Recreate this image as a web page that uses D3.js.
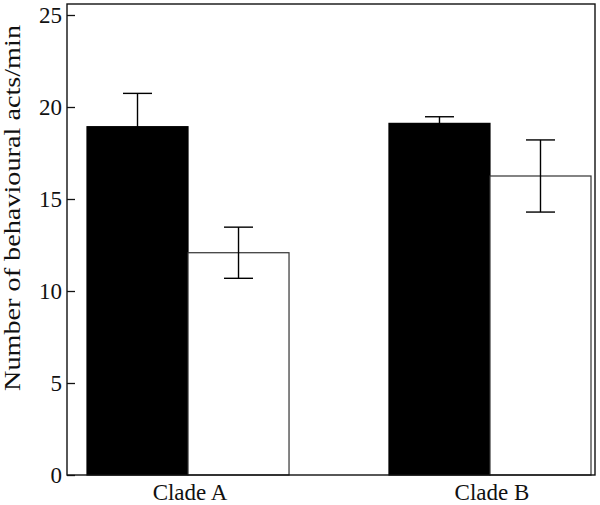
<!DOCTYPE html>
<html>
<head>
<meta charset="utf-8">
<script src="https://cdn.jsdelivr.net/npm/d3@7"></script>
<style>
  body { margin: 0; background: #fff; }
  text { font-family: "Liberation Serif", "DejaVu Serif", serif; fill: #111; }
</style>
</head>
<body>
<div id="chart"></div>
<script>
    // data
    const clades = ['Clade A', 'Clade B'];
    const groups = ['filled', 'open'];
    const means = [[18.93, 12.08], [19.11, 16.25]];
    const errs = [[1.81, 1.39], [0.36, 1.96]];
    const yTicks = [0, 5, 10, 15, 20, 25];
    const yTitle = 'Number of behavioural acts/min';

    const width = 600;
    const height = 505;

    const svg = d3.select('#chart').append('svg')
      .attr('width', width)
      .attr('height', height);

    const frame = { left: 67, right: 595, top: 4, bottom: 475 };

    const y = d3.scaleLinear().domain([0, 25]).range([475, 15]);

    const x = d3.scaleBand()
      .domain(clades)
      .range([87, 591])
      .paddingInner(0.331);

    const xg = d3.scaleBand()
      .domain(groups)
      .range([0, x.bandwidth()]);

    const rows = [];
    clades.forEach((c, i) => groups.forEach((g, j) => rows.push({
      clade: c, group: g, mean: means[i][j], err: errs[i][j]
    })));

    // bars
    svg.append('g').selectAll('rect')
      .data(rows)
      .enter().append('rect')
        .attr('x', d => x(d.clade) + xg(d.group))
        .attr('y', d => y(d.mean))
        .attr('width', xg.bandwidth())
        .attr('height', d => y(0) - y(d.mean))
        .attr('fill', d => d.group === 'filled' ? '#000' : '#fff')
        .attr('stroke', d => d.group === 'filled' ? '#000' : '#333')
        .attr('stroke-width', 1.2);

    // error bars
    const capW = 29;
    const eb = svg.append('g').attr('stroke', '#000').attr('stroke-width', 1.4);
    rows.forEach(d => {
      const cx = x(d.clade) + xg(d.group) + xg.bandwidth() / 2;
      const hi = y(d.mean + d.err), lo = y(d.mean - d.err);
      eb.append('line').attr('x1', cx).attr('x2', cx).attr('y1', hi).attr('y2', lo);
      eb.append('line').attr('x1', cx - capW / 2).attr('x2', cx + capW / 2).attr('y1', hi).attr('y2', hi);
      eb.append('line').attr('x1', cx - capW / 2).attr('x2', cx + capW / 2).attr('y1', lo).attr('y2', lo);
    });

    // frame
    svg.append('rect')
      .attr('x', frame.left)
      .attr('y', frame.top)
      .attr('width', frame.right - frame.left)
      .attr('height', frame.bottom - frame.top)
      .attr('fill', 'none')
      .attr('stroke', '#111')
      .attr('stroke-width', 1.4);

    // y axis, ticks pointing inward
    const yAxis = svg.append('g')
      .attr('transform', `translate(${frame.left},0)`)
      .call(d3.axisRight(y).tickValues(yTicks).tickSize(8).tickFormat(''));
    yAxis.select('.domain').remove();
    yAxis.selectAll('line').attr('stroke', '#111').attr('stroke-width', 1.3);

    svg.append('g').selectAll('text')
      .data(yTicks)
      .enter().append('text')
        .attr('x', 62)
        .attr('y', d => y(d))
        .attr('dy', '0.35em')
        .attr('text-anchor', 'end')
        .style('font-size', '23px')
        .text(d => d);

    // category labels
    svg.append('g').selectAll('text')
      .data(clades)
      .enter().append('text')
        .attr('x', d => x(d) + x.bandwidth() / 2 + 2)
        .attr('y', 500)
        .attr('text-anchor', 'middle')
        .style('font-size', '23px')
        .text(d => d);

    // y title
    svg.append('text')
      .attr('transform', 'translate(20,208) rotate(-90)')
      .attr('text-anchor', 'middle')
      .attr('textLength', 366)
      .attr('lengthAdjust', 'spacingAndGlyphs')
      .style('font-size', '24px')
      .text(yTitle);
</script>
</body>
</html>
